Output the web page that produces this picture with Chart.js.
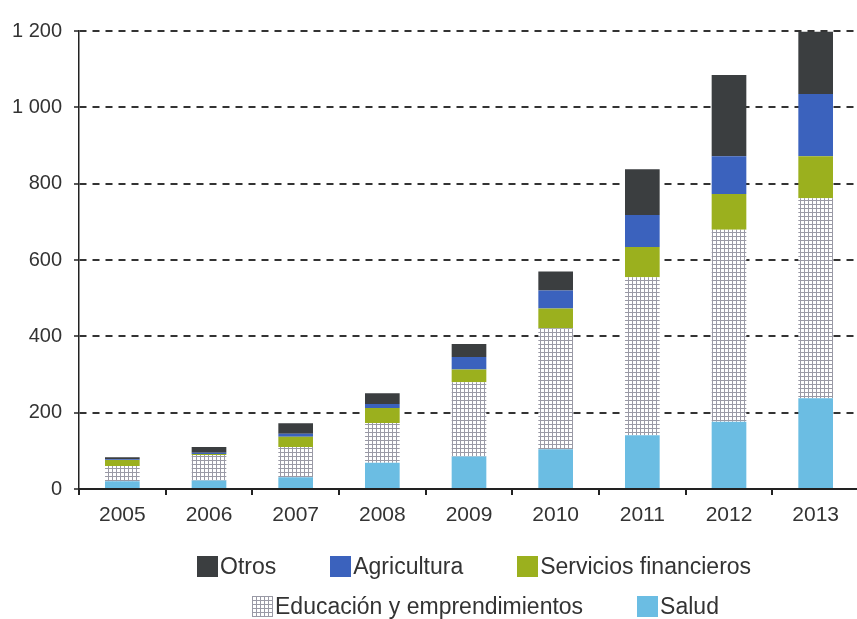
<!DOCTYPE html>
<html>
<head>
<meta charset="utf-8">
<script src="https://cdn.jsdelivr.net/npm/chart.js@4"></script>
<style>
  html, body { margin: 0; padding: 0; background: #fff; overflow: hidden; }
  body { width: 857px; height: 619px; position: relative; }
  #wrap { position: absolute; left: 0; top: 0; width: 862px; height: 619px; }
  .legend-row { position: absolute; display: flex; align-items: center; gap: 54px;
    font-family: "Liberation Sans", Arial, sans-serif; font-size: 23px; color: #333; }
  .item { display: flex; align-items: center; height: 21px; }
  .box { width: 21px; height: 21px; margin-right: 2px; }
</style>
</head>
<body>
<div id="wrap"><canvas id="chart" width="862" height="619"></canvas></div>
<div class="legend-row" id="row1" style="left:197px; top:556px;"></div>
<div class="legend-row" id="row2" style="left:252px; top:596px;"></div>
<script>
const years = ['2005', '2006', '2007', '2008', '2009', '2010', '2011', '2012', '2013'];
const salud = [20, 22, 31, 69, 85, 104, 141, 176, 238];
const educacion = [40, 67, 79, 104, 195, 317, 414, 503, 524];
const servicios = [16, 3, 27, 39, 33, 52, 79, 94, 110];
const agricultura = [2, 3, 8, 11, 33, 47, 84, 99, 163];
const otros = [5, 15, 27, 28, 34, 50, 120, 213, 163];
const yTicks = [0, 200, 400, 600, 800, 1000, 1200];

// grid pattern for "Educación y emprendimientos"
function makePatternCanvas() {
  const c = document.createElement('canvas');
  c.width = 4;
  c.height = 4;
  const g = c.getContext('2d');
  g.fillStyle = '#ffffff';
  g.fillRect(0, 0, 4, 4);
  g.fillStyle = '#9a9aa6';
  g.fillRect(0, 0, 4, 1);
  g.fillRect(0, 0, 1, 4);
  return c;
}
const patCanvas = makePatternCanvas();
const ctx = document.getElementById('chart').getContext('2d');
const eduPattern = ctx.createPattern(patCanvas, 'repeat');

const series = [
  { label: 'Salud', data: salud, color: '#6bbde3' },
  { label: 'Educación y emprendimientos', data: educacion, color: eduPattern },
  { label: 'Servicios financieros', data: servicios, color: '#9bb01e' },
  { label: 'Agricultura', data: agricultura, color: '#3b62bd' },
  { label: 'Otros', data: otros, color: '#3b3e40' }
];

const fmt = v => String(v).replace(/\B(?=(\d{3})+(?!\d))/g, ' ');

new Chart(ctx, {
  type: 'bar',
  data: {
    labels: years,
    datasets: series.map(s => ({
      label: s.label,
      data: s.data,
      backgroundColor: s.color,
      borderWidth: 0,
      categoryPercentage: 0.8,
      barPercentage: 0.5
    }))
  },
  options: {
    responsive: false,
    animation: false,
    layout: { padding: { top: 31, right: 3, left: 0, bottom: 90 } },
    plugins: { legend: { display: false }, tooltip: { enabled: false } },
    scales: {
      x: {
        stacked: true,
        afterFit: s => { s.height = 40; },
        border: { color: '#222', width: 2 },
        grid: { drawOnChartArea: false, drawTicks: true, tickLength: 6, color: '#222', lineWidth: 2 },
        ticks: { color: '#333', padding: 8, font: { family: 'Liberation Sans', size: 21 } }
      },
      y: {
        stacked: true,
        min: 0,
        max: 1200,
        afterFit: s => { s.width = 79; },
        afterBuildTicks: s => { s.ticks = yTicks.map(v => ({ value: v })); },
        // in v4 border.dash is what dashes the grid lines
        border: { color: '#222', width: 1.5, dash: [7, 6] },
        grid: {
          color: '#333', lineWidth: 2,
          tickLength: 5, tickBorderDash: [], tickColor: '#222', tickWidth: 1.5
        },
        ticks: {
          color: '#333', padding: 12,
          font: { family: 'Liberation Sans', size: 20 },
          callback: v => fmt(v)
        }
      }
    }
  }
});

// legend, same order as the reference
const swatchUrl = (() => {
  const c = document.createElement('canvas');
  c.width = 21; c.height = 21;
  const g = c.getContext('2d');
  g.fillStyle = g.createPattern(patCanvas, 'repeat');
  g.fillRect(0, 0, 21, 21);
  return c.toDataURL();
})();

function addItem(row, label, color) {
  const item = document.createElement('div');
  item.className = 'item';
  const box = document.createElement('div');
  box.className = 'box';
  if (typeof color === 'string') box.style.background = color;
  else box.style.backgroundImage = `url(${swatchUrl})`;
  const txt = document.createElement('span');
  txt.textContent = label;
  item.appendChild(box);
  item.appendChild(txt);
  document.getElementById(row).appendChild(item);
}
const byLabel = l => series.find(s => s.label === l);
['Otros', 'Agricultura', 'Servicios financieros'].forEach(l => addItem('row1', l, byLabel(l).color));
['Educación y emprendimientos', 'Salud'].forEach(l => addItem('row2', l, byLabel(l).color));
</script>
</body>
</html>
